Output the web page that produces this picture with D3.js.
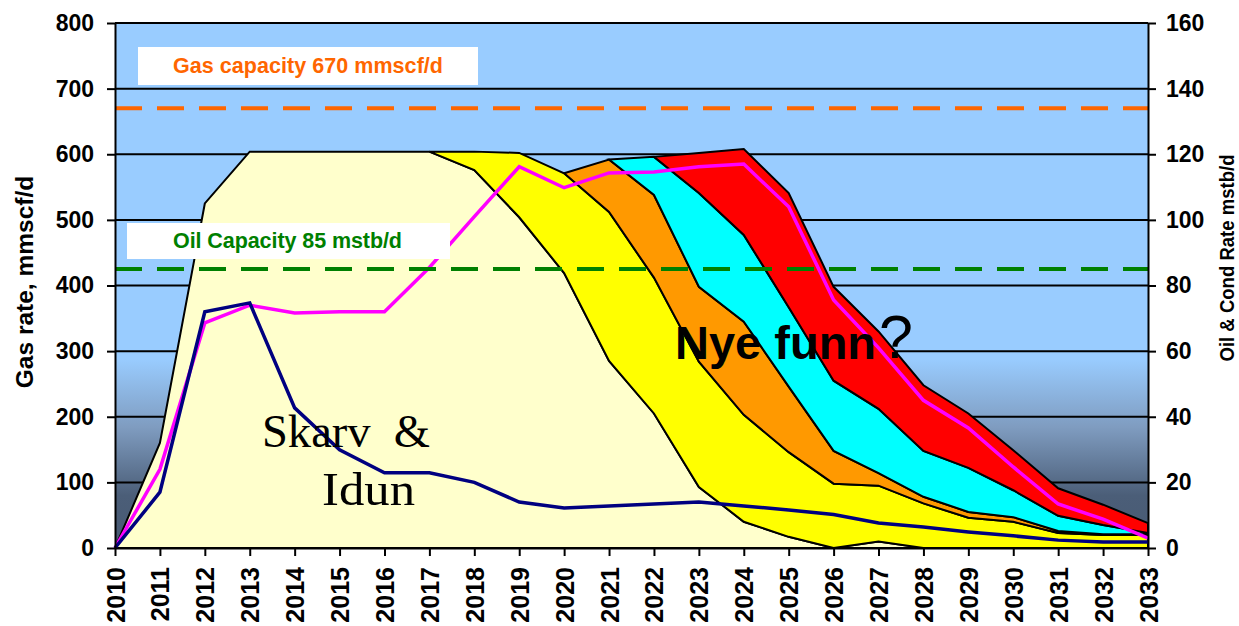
<!DOCTYPE html>
<html><head><meta charset="utf-8">
<script src="https://cdn.jsdelivr.net/npm/d3@7"></script>
<style>html,body{margin:0;padding:0;background:#fff;} svg{display:block;}</style>
</head><body>
<svg id="chart" width="1239" height="626"></svg>
<script>
// ---------- data ----------
const years = [2010,2011,2012,2013,2014,2015,2016,2017,2018,2019,2020,2021,2022,2023,2024,2025,2026,2027,2028,2029,2030,2031,2032,2033];
// gas rate layers (mmscf/d), stacked
const skarvIdun = [0,160,525,604,604,604,604,604,576,504,419,285,205,93,40,17,0,10,0,0,0,0,0,0];
const yellowFind = [0,0,0,0,0,0,0,0,28,98,152,227,207,191,163,129,98,85,68,46,40,23,20,20];
const orangeFind = [0,0,0,0,0,0,0,0,0,0,0,80,126,114,142,100,50,19,10,9,7,3,1,1];
const cyanFind   = [0,0,0,0,0,0,0,0,0,0,0,0,58,143,132,121,107,98,70,67,41,23,14,2];
const redFind    = [0,0,0,0,0,0,0,0,0,0,0,0,0,61,131,174,143,118,100,83,61,42,31,15];
const layerStart = [2010,2017,2020,2021,2022];
// oil & cond rate (mstb/d)
const oilTotal = [0,24,68.6,74,71.6,72,72,85.5,101,116.2,109.8,114.3,114.6,116.2,117,104,75.6,61,45,36.6,24.7,13.4,8.8,3];
const oilSkarv = [0,17,72,74.7,42.7,29.9,22.9,22.9,20,14,12.2,12.8,13.4,14,12.8,11.6,10.2,7.6,6.4,4.9,3.7,2.4,1.8,1.8];
const gasTicks = [0,100,200,300,400,500,600,700,800];
const oilTicks = [0,20,40,60,80,100,120,140,160];
const gasCapacity = 670;
const oilCapacity = 85;
const layerNames = ["skarvIdun","yellowFind","orangeFind","cyanFind","redFind"];
const layerColors = ["#FFFFCC","#FFFF00","#FF9900","#00FFFF","#FF0000"];

// ---------- layout ----------
const svg = d3.select("#chart");
const X0 = 115, X1 = 1148, Y0 = 548, Y1 = 23;
const x = d3.scaleLinear().domain([2010,2033]).range([X0,X1]);
const yGas = d3.scaleLinear().domain([0,800]).range([Y0,Y1]);
const yOil = d3.scaleLinear().domain([0,160]).range([Y0,Y1]);

// background gradient
const defs = svg.append("defs");
const grad = defs.append("linearGradient").attr("id","bg").attr("x1",0).attr("y1",0).attr("x2",0).attr("y2",1);
grad.append("stop").attr("offset",0).attr("stop-color","#99CCFF");
grad.append("stop").attr("offset",0.64).attr("stop-color","#99CCFF");
grad.append("stop").attr("offset",0.77).attr("stop-color","#7F9CC0");
grad.append("stop").attr("offset",0.9).attr("stop-color","#4B5E78");
grad.append("stop").attr("offset",1).attr("stop-color","#485A73");
svg.append("rect").attr("x",X0).attr("y",Y1).attr("width",X1-X0).attr("height",Y0-Y1).attr("fill","url(#bg)");

// gridlines
svg.append("g").selectAll("line").data(gasTicks.filter(d=>d>0)).join("line")
  .attr("x1",X0).attr("x2",X1).attr("y1",d=>yGas(d)).attr("y2",d=>yGas(d))
  .attr("stroke","#000").attr("stroke-width",2);

// stacked areas
const table = years.map((yr,i)=>({year:yr, skarvIdun:skarvIdun[i], yellowFind:yellowFind[i], orangeFind:orangeFind[i], cyanFind:cyanFind[i], redFind:redFind[i]}));
const series = d3.stack().keys(layerNames)(table);
series.forEach((s,k)=>{
  const area = d3.area()
    .defined(d=>d.data.year>=layerStart[k])
    .x(d=>x(d.data.year)).y0(d=>yGas(d[0])).y1(d=>yGas(d[1]));
  svg.append("path").datum(s).attr("d",area)
    .attr("fill",layerColors[k]).attr("stroke","#000").attr("stroke-width",2).attr("stroke-linejoin","miter");
});

// oil lines
const lineOil = arr => d3.line().x((d,i)=>x(years[i])).y(d=>yOil(d))(arr);
svg.append("path").attr("d",lineOil(oilTotal)).attr("fill","none").attr("stroke","#FF00FF").attr("stroke-width",3.5);
svg.append("path").attr("d",lineOil(oilSkarv)).attr("fill","none").attr("stroke","#000080").attr("stroke-width",3.5);

// capacity lines
svg.append("line").attr("x1",X0).attr("x2",X1).attr("y1",yGas(gasCapacity)).attr("y2",yGas(gasCapacity))
  .attr("stroke","#FF6600").attr("stroke-width",4).attr("stroke-dasharray","27,15");
svg.append("line").attr("x1",X0).attr("x2",X1).attr("y1",yOil(oilCapacity)).attr("y2",yOil(oilCapacity))
  .attr("stroke","#008000").attr("stroke-width",4).attr("stroke-dasharray","27,15");

// label boxes
svg.append("rect").attr("x",138).attr("y",47).attr("width",340).attr("height",38).attr("fill","#fff");
svg.append("text").attr("x",173).attr("y",73).attr("textLength",270).attr("lengthAdjust","spacing")
  .attr("font-family","Liberation Sans, Arial, sans-serif").attr("font-weight","bold").attr("font-size",21.5)
  .attr("fill","#FF6600").text("Gas capacity 670 mmscf/d");
svg.append("rect").attr("x",127).attr("y",223).attr("width",323).attr("height",36).attr("fill","#fff");
svg.append("text").attr("x",173).attr("y",248).attr("textLength",229).attr("lengthAdjust","spacing")
  .attr("font-family","Liberation Sans, Arial, sans-serif").attr("font-weight","bold").attr("font-size",21.5)
  .attr("fill","#008000").text("Oil Capacity 85 mstb/d");

// annotations
svg.append("text").attr("x",262).attr("y",447).attr("textLength",168).attr("lengthAdjust","spacingAndGlyphs")
  .attr("font-family","Liberation Serif, Times New Roman, serif").attr("font-size",47).attr("fill","#000")
  .style("white-space","pre").text("Skarv  &");
svg.append("text").attr("x",322).attr("y",505).attr("textLength",93).attr("lengthAdjust","spacingAndGlyphs")
  .attr("font-family","Liberation Serif, Times New Roman, serif").attr("font-size",47).attr("fill","#000")
  .text("Idun");
svg.append("text").attr("x",675).attr("y",359)
  .attr("font-family","Liberation Sans, Arial, sans-serif").attr("font-weight","bold").attr("font-size",47).attr("fill","#000")
  .text("Nye funn");
svg.append("text").attr("x",879).attr("y",358)
  .attr("font-family","Liberation Sans, Arial, sans-serif").attr("font-size",61).attr("fill","#000")
  .text("?");

// axes
const axisFont = "Liberation Sans, Arial, sans-serif";
const gL = svg.append("g").attr("transform",`translate(${X0},0)`)
  .call(d3.axisLeft(yGas).tickValues(gasTicks).tickSize(8).tickSizeOuter(0).tickPadding(13));
const gR = svg.append("g").attr("transform",`translate(${X1},0)`)
  .call(d3.axisRight(yOil).tickValues(oilTicks).tickSize(8).tickSizeOuter(0).tickPadding(10));
const gB = svg.append("g").attr("transform",`translate(0,${Y0})`)
  .call(d3.axisBottom(x).tickValues(years).tickFormat(d3.format("d")).tickSize(8).tickSizeOuter(0));
[gL,gR,gB].forEach(g=>{
  g.selectAll("path.domain").attr("stroke","#000").attr("stroke-width",2);
  g.selectAll(".tick line").attr("stroke","#000").attr("stroke-width",2);
  g.selectAll("text").attr("font-family",axisFont).attr("font-weight","bold").attr("fill","#000");
});
gL.selectAll("text").attr("font-size",23);
gR.selectAll("text").attr("font-size",23);
gB.selectAll("text").attr("font-size",25).attr("transform","rotate(-90)")
  .attr("x",-19).attr("y",0).attr("dy","0.36em").style("text-anchor","end");

// axis titles
svg.append("text").attr("transform","translate(33,282) rotate(-90)").attr("text-anchor","middle")
  .attr("font-family",axisFont).attr("font-weight","bold").attr("font-size",24.5).text("Gas rate, mmscf/d");
svg.append("text").attr("transform","translate(1234,258) rotate(-90)").attr("text-anchor","middle")
  .attr("textLength",207).attr("lengthAdjust","spacingAndGlyphs")
  .attr("font-family",axisFont).attr("font-weight","bold").attr("font-size",19.5).text("Oil & Cond Rate mstb/d");
</script>
</body></html>
